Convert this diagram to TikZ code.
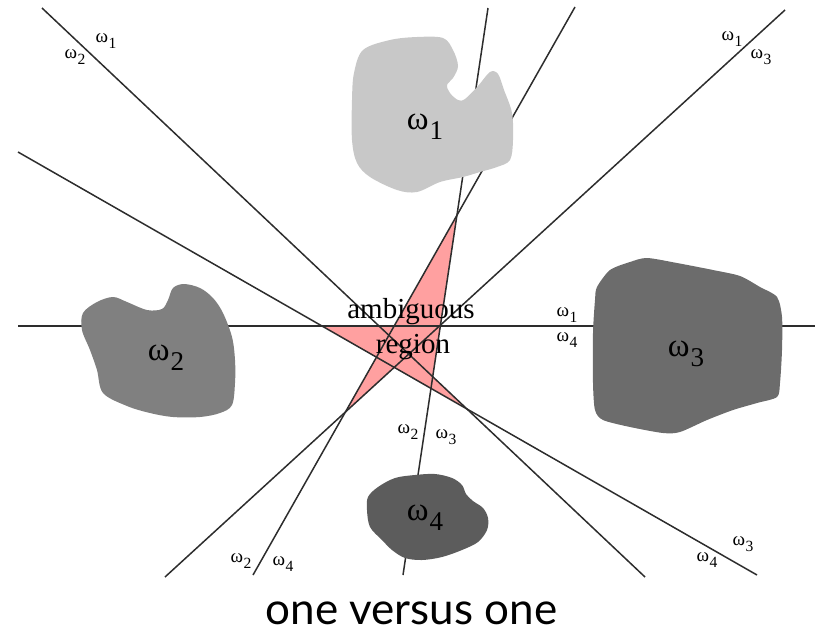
\documentclass[tikz,border=0pt]{standalone}
\usepackage{fontspec}
\setmainfont{Liberation Serif}
\newfontfamily\captionfont{Lato}
\usetikzlibrary{calc}

% omega with a large, lowered index
\newcommand\omsub[1]{ω\kern0.03em\raisebox{-0.3em}{\scalebox{0.82}{#1}}}

\definecolor{pinkfill}{RGB}{255,160,160}
\definecolor{lineclr}{RGB}{45,45,45}
\definecolor{classA}{RGB}{200,200,200}
\definecolor{classB}{RGB}{128,128,128}
\definecolor{classC}{RGB}{108,108,108}
\definecolor{classD}{RGB}{92,92,92}

\tikzset{
  boundary/.style={draw=lineclr, line width=1.5pt},
  sidelab/.style={inner sep=0pt, font=\fontsize{19}{19}\selectfont},
  classlab/.style={inner sep=0pt, font=\fontsize{33}{33}\selectfont},
  regiontext/.style={inner sep=0pt, anchor=base, font=\fontsize{29}{29}\selectfont},
}

\begin{document}
\begin{tikzpicture}[x=1pt,y=-1pt]
\useasboundingbox (0,0) rectangle (821,635);

% end points of the six pairwise boundaries H_ij
\coordinate (a12) at (42,8);   \coordinate (b12) at (645,577);
\coordinate (a13) at (785,10); \coordinate (b13) at (165,577);
\coordinate (a14) at (18,326); \coordinate (b14) at (815,326);
\coordinate (a23) at (488,8);  \coordinate (b23) at (403,575);
\coordinate (a24) at (575,7);  \coordinate (b24) at (253,575);
\coordinate (a34) at (18,152); \coordinate (b34) at (757,575);

% ambiguous region
\fill[pinkfill]
  (intersection of a14--b14 and a34--b34) --
  (intersection of a24--b24 and a34--b34) --
  (intersection of a13--b13 and a24--b24) --
  (intersection of a13--b13 and a34--b34) --
  (intersection of a12--b12 and a34--b34) --
  (intersection of a12--b12 and a23--b23) --
  (intersection of a23--b23 and a24--b24) --
  (intersection of a14--b14 and a24--b24) -- cycle;

% decision boundaries
\draw[boundary] (a12) -- (b12);
\draw[boundary] (a13) -- (b13);
\draw[boundary] (a14) -- (b14);
\draw[boundary] (a23) -- (b23);
\draw[boundary] (a24) -- (b24);
\draw[boundary] (a34) -- (b34);

% class regions
\fill[classA] plot[smooth cycle, tension=0.55] coordinates {
  (363,50) (390,40) (417,37) (443,38) (453,50) (458,66) (453,78)
  (447,85) (450,93) (458,100) (465,99) (478,86) (490,72) (498,74)
  (504,90) (512,113) (513,140) (510,160) (497,167) (480,172)
  (463,177) (440,182) (417,192) (397,190) (370,177) (357,163)
  (352,140) (352,100) (354,73)};
\fill[classB] plot[smooth cycle, tension=0.55] coordinates {
  (83,313) (97,302) (113,297) (127,302) (147,310) (162,309) (168,300)
  (173,288) (184,284) (200,288) (213,298) (223,313) (232,337)
  (235,360) (235,383) (232,405) (220,413) (200,417) (173,417)
  (150,413) (127,406) (103,393) (97,370) (90,350) (82,330)};
\fill[classC] plot[smooth cycle, tension=0.45] coordinates {
  (597,287) (610,270) (630,262) (647,258) (677,263) (713,270)
  (740,276) (760,287) (777,297) (782,317) (782,350) (780,383)
  (777,397) (757,403) (733,410) (707,420) (680,432) (663,433)
  (630,427) (603,420) (595,410) (593,383) (593,333) (595,300)};
\fill[classD] plot[smooth cycle, tension=0.55] coordinates {
  (368,497) (378,487) (395,478) (415,475) (435,474) (452,478)
  (462,485) (466,494) (473,501) (483,508) (488,518) (487,530)
  (478,542) (462,550) (442,557) (422,560) (405,558) (392,550)
  (382,540) (370,527) (367,510)};

% class names
\node[classlab] (n1) at (425,127) {\omsub{1}};
\node[classlab] (n2) at (166,358) {\omsub{2}};
\node[classlab] (n3) at (686,354) {\omsub{3}};
\node[classlab] (n4) at (425,518) {\omsub{4}};

% side labels of the boundaries
\node[sidelab] (s12a) at (106,41)  {\omsub{1}};
\node[sidelab] (s12b) at (75,57)   {\omsub{2}};
\node[sidelab] (s13a) at (732,39)  {\omsub{1}};
\node[sidelab] (s13b) at (761,57)  {\omsub{3}};
\node[sidelab] (s14a) at (567,315) {\omsub{1}};
\node[sidelab] (s14b) at (567,340) {\omsub{4}};
\node[sidelab] (s23a) at (408,432) {\omsub{2}};
\node[sidelab] (s23b) at (446,437) {\omsub{3}};
\node[sidelab] (s24a) at (241,561) {\omsub{2}};
\node[sidelab] (s24b) at (283,564) {\omsub{4}};
\node[sidelab] (s34a) at (743,544) {\omsub{3}};
\node[sidelab] (s34b) at (707,560) {\omsub{4}};

% ambiguous region text
\node[regiontext] (amb) at (411,318) {ambiguous};
\node[regiontext] (reg) at (413,353) {region};

% caption
\node[inner sep=0pt, font=\captionfont\fontsize{44}{44}\selectfont] (caption) at (411.5,613) {one versus one};
\end{tikzpicture}
\end{document}
